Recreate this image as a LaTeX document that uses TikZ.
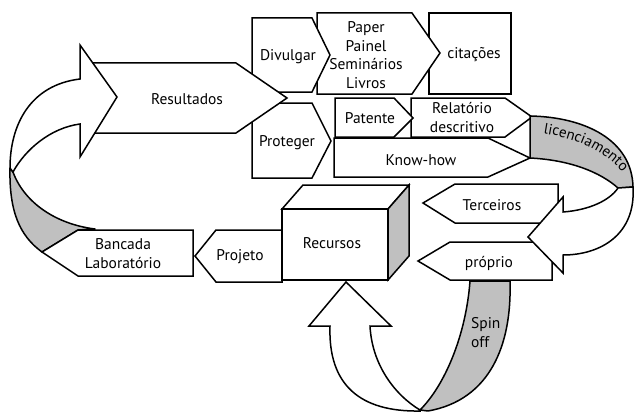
\documentclass[tikz,border=0pt]{standalone}
\usepackage{fontspec}
\setmainfont{PT Sans}
\usetikzlibrary{decorations.text}
\definecolor{ribgray}{RGB}{192,192,192}
\begin{document}
\begin{tikzpicture}[x=1pt,y=-1pt,
  shp/.style={draw=black, fill=white, line width=1.5pt, line join=miter},
  gshp/.style={draw=black, fill=ribgray, line width=1.5pt, line join=round},
  lbl/.style={font=\fontsize{15.5}{19}\selectfont, align=center, inner sep=0pt}]
\useasboundingbox (0,0) rectangle (634,412);
% left ribbon (gray back)
\path[gshp] (10,168) .. controls (9,212) and (20,236) .. (42,252) -- (78,230) -- (95,229) .. controls (55,224) and (24,202) .. (13,172) -- cycle;
% Bancada, Projeto
\path[shp] (42,252) -- (78,230) -- (193,230) -- (193,276) -- (78,276) -- cycle;
\path[shp] (195,256) -- (216,230) -- (282,230) -- (282,282) -- (216,282) -- cycle;
% top row
\path[shp, line width=1.2pt] (429,13) -- (511,13) -- (511,94) -- (429,94) -- cycle;
\path[shp] (317,13) -- (412,13) -- (440,53) -- (412,94) -- (317,94) -- cycle;
\path[shp] (252,18) -- (312,18) -- (330,55) -- (312,92) -- (252,92) -- cycle;
\path[shp] (252,103) -- (312,103) -- (331,141) -- (312,178) -- (252,178) -- cycle;
% protect row
\path[shp] (411,98) -- (505,98) -- (532,117) -- (505,137) -- (411,137) -- cycle;
\path[shp] (335,98) -- (394,98) -- (413,118) -- (394,137) -- (335,137) -- cycle;
\path[shp] (334,138) -- (488,138) -- (530,158) -- (488,177) -- (334,177) -- cycle;
% Resultados
\path[shp] (90,63) -- (236,63) -- (287,98) -- (236,133) -- (90,133) -- cycle;
% left ribbon white front with arrowhead
\path[shp] (80,79) .. controls (30,85) and (10,125) .. (10,168) -- (13,172) .. controls (25,150) and (50,128) .. (80,124) -- (80,157) -- (117,97) -- (80,45) -- cycle;
% licenciamento ribbon
\path[gshp] (530,116) .. controls (585,117) and (632,140) .. (633,187) -- (618,188) .. controls (600,172) and (570,160) .. (530,158) -- cycle;
\path[shp] (423,203) -- (455,184) -- (558,184) -- (558,223) -- (455,223) -- cycle;
\path[gshp] (470,281) -- (510,281) .. controls (512,345) and (490,400) .. (428,411) -- (420,410) .. controls (445,385) and (466,335) .. (470,281) -- cycle;
\path[shp] (418,261) -- (450,242) -- (552,242) -- (552,280) -- (450,280) -- cycle;
\path[shp] (633,187) .. controls (636,235) and (600,255) .. (563,255) -- (563,273) -- (528,237) -- (563,197) -- (563,212) .. controls (590,210) and (610,200) .. (618,188) -- cycle;
% spin-off white arrow up
\path[shp] (309,326) -- (346,282) -- (391,326) -- (370,326) .. controls (372,365) and (395,395) .. (420,410) -- (420,411) .. controls (360,412) and (328,385) .. (330,326) -- cycle;
% Recursos cube
\path[shp] (282,209) -- (303,185) -- (409,185) -- (388,209) -- cycle;
\path[gshp, line join=miter] (388,209) -- (409,185) -- (409,256) -- (388,280) -- cycle;
\path[shp, line width=1.2pt] (282,209) -- (388,209) -- (388,280) -- (282,280) -- cycle;
% labels
\node[lbl] (res) at (187,99) {Resultados};
\node[lbl] (div) at (288,57) {Divulgar};
\node[lbl] (pro) at (287,143) {Proteger};
\node[lbl, font=\fontsize{15.5}{18.7}\selectfont] (pap) at (366,55) {Paper\\Painel\\Seminários\\Livros};
\node[lbl] (cit) at (474,55) {citações};
\node[lbl] (pat) at (370,118) {Patente};
\node[lbl] (rel) at (462,118) {Relatório\\descritivo};
\node[lbl] (kno) at (421,160) {Know-how};
\node[lbl] (ter) at (492,205) {Terceiros};
\node[lbl] (prp) at (489,263) {próprio};
\node[lbl] (rec) at (332,243) {Recursos};
\node[lbl] (prj) at (240,257) {Projeto};
\node[lbl] (ban) at (123,254) {Bancada\\Laboratório};
\node[lbl, align=left, anchor=west] (spn) at (471,333) {Spin\\off};
\path[decorate, decoration={text along path, text align=center,
  text={|\fontsize{15}{17}\selectfont|licenciamento}}]
  (534,132) .. controls (574,137) and (608,150) .. (628,180);
\end{tikzpicture}
\end{document}
